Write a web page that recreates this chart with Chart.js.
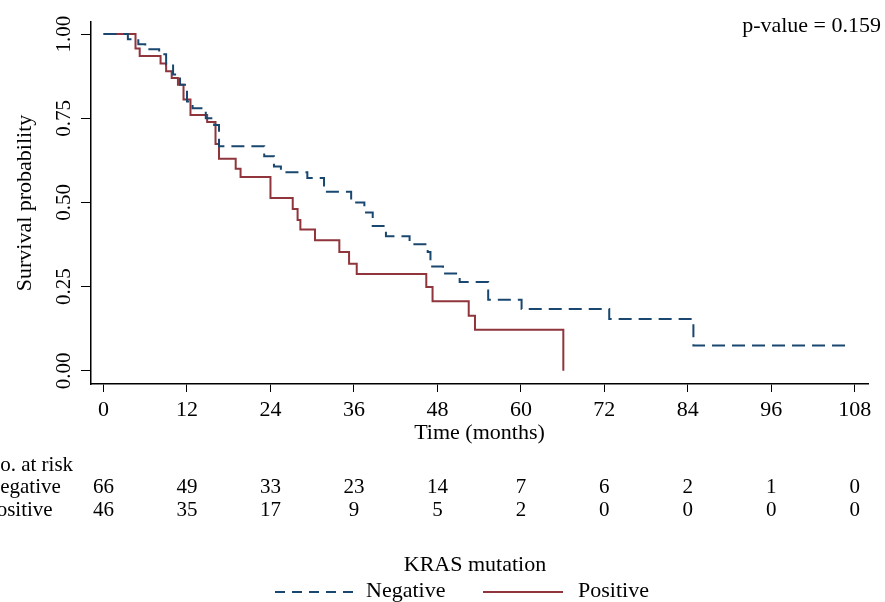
<!DOCTYPE html>
<html>
<head>
<meta charset="utf-8">
<script src="https://cdn.jsdelivr.net/npm/chart.js@4/dist/chart.umd.min.js"></script>
<style>
  html, body { margin: 0; padding: 0; background: #fff; }
  #wrap { width: 885px; height: 602px; }
</style>
</head>
<body>
<div id="wrap"><canvas id="km" width="885" height="602"></canvas></div>
<script>
// Kaplan-Meier steps: time (months) and survival after each drop
const negTime = [0, 3.5, 5.0, 6.0, 8.0, 9.0, 10.0, 11.0, 12.0, 12.8, 14.7, 15.9, 16.6, 23.1, 24.5, 25.5, 29.3, 31.7, 35.6, 37.5, 38.7, 40.6, 44.0, 46.6, 47.0, 48.8, 51.2, 55.3, 60.1, 72.7, 84.8, 107.2];
const negSurv = [1.0, 0.985, 0.97, 0.955, 0.94, 0.91, 0.88, 0.85, 0.80, 0.78, 0.75, 0.73, 0.667, 0.637, 0.607, 0.59, 0.573, 0.532, 0.50, 0.47, 0.43, 0.40, 0.376, 0.353, 0.31, 0.289, 0.264, 0.211, 0.184, 0.154, 0.075, 0.075];

const posTime = [0, 4.6, 5.2, 8.2, 9.0, 9.8, 10.7, 11.5, 12.5, 14.9, 16.1, 16.6, 19.0, 19.7, 24.0, 27.2, 27.9, 28.3, 30.4, 33.9, 35.3, 36.4, 46.4, 47.3, 52.5, 53.4, 66.1];
const posSurv = [1.0, 0.957, 0.935, 0.913, 0.89, 0.87, 0.85, 0.806, 0.76, 0.739, 0.674, 0.63, 0.60, 0.576, 0.513, 0.481, 0.448, 0.42, 0.388, 0.353, 0.318, 0.288, 0.249, 0.207, 0.164, 0.122, 0.0];

const xTicks = [0, 12, 24, 36, 48, 60, 72, 84, 96, 108];
const yTicks = [0, 0.25, 0.5, 0.75, 1.0];

const groups = ['Negative', 'Positive'];
const atRiskNeg = [66, 49, 33, 23, 14, 7, 6, 2, 1, 0];
const atRiskPos = [46, 35, 17, 9, 5, 2, 0, 0, 0, 0];

const pValueText = 'p-value = 0.159';
const legendTitle = 'KRAS mutation';

const NAVY = '#1a476f';
const MAROON = '#90353b';
const SERIF = '"Liberation Serif", "DejaVu Serif", serif';

const toPoints = (ts, ss) => ts.map((t, i) => ({ x: t, y: ss[i] }));

// risk table, legend and p-value text
const extras = {
    id: 'extras',
    afterDraw(chart) {
        const ctx = chart.ctx;
        const xs = chart.scales.x;
        ctx.save();
        ctx.fillStyle = '#000';
        ctx.textBaseline = 'middle';

        ctx.font = '22px ' + SERIF;
        ctx.textAlign = 'right';
        ctx.fillText(pValueText, 881, 26);

        ctx.font = '21px ' + SERIF;
        ctx.textAlign = 'left';
        ctx.fillText('No. at risk', -15, 465);
        ctx.fillText(groups[0], -15, 487);
        ctx.fillText(groups[1], -15, 510);

        ctx.textAlign = 'center';
        xTicks.forEach((t, i) => {
            const px = xs.getPixelForValue(t);
            ctx.fillText(String(atRiskNeg[i]), px, 487);
            ctx.fillText(String(atRiskPos[i]), px, 510);
        });

        ctx.font = '22px ' + SERIF;
        ctx.fillText(legendTitle, 475, 565);

        ctx.lineWidth = 2;
        ctx.strokeStyle = NAVY;
        ctx.setLineDash([10, 7]);
        ctx.beginPath();
        ctx.moveTo(275, 592);
        ctx.lineTo(357, 592);
        ctx.stroke();

        ctx.strokeStyle = MAROON;
        ctx.setLineDash([]);
        ctx.beginPath();
        ctx.moveTo(483, 592);
        ctx.lineTo(563, 592);
        ctx.stroke();

        ctx.textAlign = 'left';
        ctx.fillText(groups[0], 366, 591);
        ctx.fillText(groups[1], 578, 591);
        ctx.restore();
    }
};

new Chart(document.getElementById('km').getContext('2d'), {
    type: 'line',
    data: {
        datasets: [
            {
                label: groups[0],
                data: toPoints(negTime, negSurv),
                borderColor: NAVY,
                borderWidth: 2,
                borderDash: [13, 7],
                stepped: 'before',
                pointRadius: 0,
                fill: false
            },
            {
                label: groups[1],
                data: toPoints(posTime, posSurv),
                borderColor: MAROON,
                borderWidth: 2,
                stepped: 'before',
                pointRadius: 0,
                fill: false
            }
        ]
    },
    options: {
        responsive: false,
        animation: false,
        devicePixelRatio: 1,
        layout: { padding: { left: 0, right: 17, top: 22, bottom: 158 } },
        plugins: {
            legend: { display: false },
            tooltip: { enabled: false }
        },
        scales: {
            x: {
                type: 'linear',
                min: -1.8,
                max: 109.9,
                afterBuildTicks: s => { s.ticks = xTicks.map(v => ({ value: v })); },
                afterFit: s => { s.height = 60; },
                grid: { drawOnChartArea: false, drawTicks: true, tickLength: 8, color: '#000' },
                border: { display: true, color: '#000', width: 1.5 },
                ticks: {
                    color: '#000',
                    padding: 5,
                    maxRotation: 0,
                    font: { family: SERIF, size: 22, lineHeight: 1.2 }
                },
                title: {
                    display: true,
                    text: 'Time (months)',
                    color: '#000',
                    padding: 0,
                    font: { family: SERIF, size: 22, lineHeight: 1.0 }
                }
            },
            y: {
                type: 'linear',
                min: -0.039,
                max: 1.036,
                afterBuildTicks: s => { s.ticks = yTicks.map(v => ({ value: v })); },
                afterFit: s => { s.width = 91; },
                grid: { drawOnChartArea: false, drawTicks: true, tickLength: 10, color: '#000' },
                border: { display: true, color: '#000', width: 1.5 },
                ticks: {
                    color: '#000',
                    padding: -2,
                    minRotation: 90,
                    maxRotation: 90,
                    crossAlign: 'center',
                    callback: v => v.toFixed(2),
                    font: { family: SERIF, size: 21 }
                },
                title: {
                    display: true,
                    text: 'Survival probability',
                    color: '#000',
                    padding: { top: 14, bottom: 0 },
                    font: { family: SERIF, size: 22, lineHeight: 1.0 }
                }
            }
        }
    },
    plugins: [extras]
});
</script>
</body>
</html>
